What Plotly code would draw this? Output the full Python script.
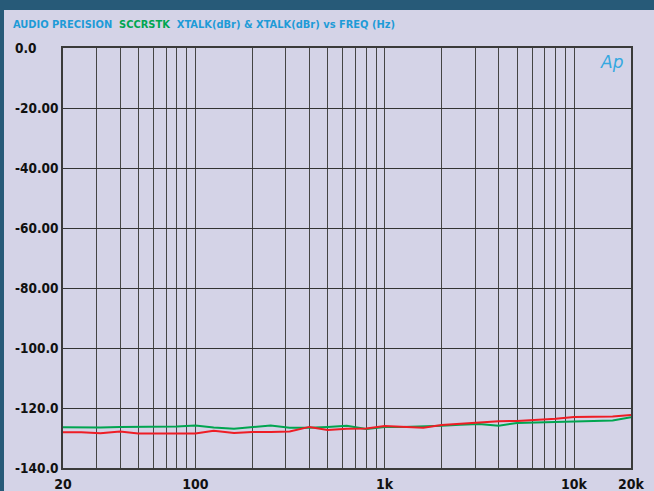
import plotly.graph_objects as go

freqs = [20, 25, 31.5, 40, 50, 63, 80, 100, 125, 160, 200, 250, 315, 400, 500, 630,
         800, 1000, 1250, 1600, 2000, 2500, 3150, 4000, 5000, 6300, 8000, 10000,
         12500, 16000, 20000]

green_db = [-126.4, -126.5, -126.5, -126.3, -126.3, -126.3, -126.2, -125.8, -126.5,
            -126.9, -126.3, -125.8, -126.6, -126.6, -126.3, -125.9, -127.0, -126.3,
            -126.3, -126.2, -125.9, -125.6, -125.3, -125.9, -125.0, -124.8, -124.6,
            -124.4, -124.2, -124.2, -123.1]

red_db = [-128.1, -128.1, -128.4, -127.8, -128.5, -128.4, -128.5, -128.5, -127.6,
          -128.3, -128.0, -128.0, -127.8, -126.3, -127.3, -126.9, -126.8, -126.0,
          -126.2, -126.6, -125.7, -125.3, -124.7, -124.4, -124.3, -124.0, -123.6,
          -123.0, -123.0, -122.8, -122.3]

x_grid = [20, 30, 40, 50, 60, 70, 80, 90, 100, 200, 300, 400, 500, 600, 700, 800, 900,
          1000, 2000, 3000, 4000, 5000, 6000, 7000, 8000, 9000, 10000, 20000]
x_labels = {20: "20", 100: "100", 1000: "1k", 10000: "10k", 20000: "20k"}

y_ticks = [0, -20, -40, -60, -80, -100, -120, -140]
y_labels = ["0.0", "-20.00", "-40.00", "-60.00", "-80.00", "-100.0", "-120.0", "-140.0"]

title_parts = [("AUDIO PRECISION", "#1e9bd7"), ("SCCRSTK", "#00a651"),
               ("XTALK(dBr) & XTALK(dBr) vs FREQ (Hz)", "#1e9bd7")]

FONT = "DejaVu Sans Condensed, Liberation Sans Narrow, Liberation Sans, Arial, sans-serif"

W, H = 654, 491
L, T = 63, 48
PW, PH = 568, 420

fig = go.Figure()
fig.add_trace(go.Scatter(x=freqs, y=green_db, mode="lines",
                         line=dict(color="#00a550", width=2), showlegend=False))
fig.add_trace(go.Scatter(x=freqs, y=red_db, mode="lines",
                         line=dict(color="#ee1d25", width=2), showlegend=False))

fig.update_layout(
    width=W, height=H,
    margin=dict(l=L, r=W - L - PW, t=T, b=H - T - PH, autoexpand=False),
    paper_bgcolor="#275a78",
    plot_bgcolor="#e7e6f3",
    showlegend=False,
)

fig.update_xaxes(
    type="log", range=[1.30103, 4.30103], automargin=False,
    tickvals=x_grid, ticktext=[x_labels.get(v, "") for v in x_grid],
    showgrid=True, gridcolor="#444444", gridwidth=1,
    showline=True, linecolor="#3a3a3a", linewidth=1.5, mirror=True,
    ticks="", ticklabelstandoff=2,
    tickfont=dict(family=FONT, size=14, color="#111111", weight="bold"),
    zeroline=False,
)
fig.update_yaxes(
    range=[-140, 0], tickvals=y_ticks, showticklabels=False, automargin=False,
    showgrid=True, gridcolor="#333333", gridwidth=1,
    showline=True, linecolor="#3a3a3a", linewidth=1.5, mirror=True,
    ticks="", zeroline=False,
)


def px_x(px):
    return (px - L) / PW


def px_y(py):
    return (T + PH - py) / PH


# lavender panel
fig.add_shape(type="rect", xref="paper", yref="paper",
              x0=px_x(4), x1=px_x(W + 20), y0=px_y(H + 20), y1=px_y(10),
              fillcolor="#d4d3e7", line=dict(width=0), layer="below")

# y tick labels (left aligned)
for v, t in zip(y_ticks, y_labels):
    fig.add_annotation(x=px_x(13), xref="paper", y=v, yref="y",
                       text=t, showarrow=False, xanchor="left", yanchor="middle",
                       font=dict(family=FONT, size=13.5, color="#111111", weight="bold"))

# title
title_html = "&nbsp;&nbsp;".join(
    f"<span style='color:{c}'>{t}</span>" for t, c in title_parts)
fig.add_annotation(x=px_x(11), xref="paper", y=px_y(25), yref="paper",
                   text=title_html, showarrow=False, xanchor="left", yanchor="middle",
                   font=dict(family=FONT, size=11, weight="bold"))

# Ap logo
fig.add_annotation(x=px_x(612), xref="paper", y=px_y(62), yref="paper",
                   text="<i>Ap</i>", showarrow=False, xanchor="center", yanchor="middle",
                   font=dict(family="DejaVu Sans, sans-serif", size=17, color="#35a8e0"))

fig.write_html(
    "out.html",
    config={"displayModeBar": False},
    post_script="document.body.style.margin='0';document.body.style.overflow='hidden';",
)
